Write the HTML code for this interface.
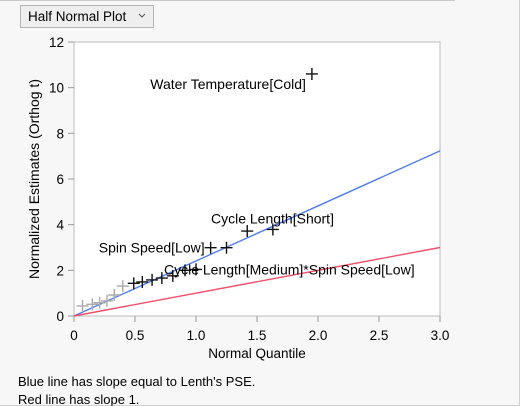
<!DOCTYPE html>
<html><head><meta charset="utf-8"><style>
body{margin:0;background:#f7f7f7;font-family:"Liberation Sans",sans-serif;}
#wrap{position:relative;width:520px;height:406px;overflow:hidden;background:#f7f7f7;}
</style></head><body>
<div id="wrap">
<svg id="svg" width="520" height="406" xmlns="http://www.w3.org/2000/svg" font-family="Liberation Sans, sans-serif">
  <line x1="0" y1="0.5" x2="455" y2="0.5" stroke="#c8c8c8"/>
  <line x1="519.5" y1="0" x2="519.5" y2="406" stroke="#d0d0d0"/>
  <line x1="0" y1="405.5" x2="520" y2="405.5" stroke="#d0d0d0"/>
  <g>
    <rect x="20.5" y="5.5" width="133" height="22" fill="#eeeeee" stroke="#b4b4b4"/>
    <text x="28" y="21" font-size="13.5" fill="#000">Half Normal Plot</text>
    <path d="M139 14 l3 3 l3 -3" fill="none" stroke="#555" stroke-width="1"/>
  </g>
  <rect x="74" y="42" width="366" height="274" fill="#fff" stroke="#bdbdbd"/>
  <g id="axes"></g>
  <g id="marks"></g>
  <text x="257" y="358" font-size="13.5" text-anchor="middle">Normal Quantile</text>
  <text transform="translate(39,179) rotate(-90)" font-size="14" text-anchor="middle">Normalized Estimates (Orthog t)</text>
  <text x="18" y="386" font-size="13">Blue line has slope equal to Lenth's PSE.</text>
  <text x="18" y="404" font-size="13">Red line has slope 1.</text>
</svg>
</div>
<script>
const xTicks=[0,0.5,1.0,1.5,2.0,2.5,3.0];
const xTickLabels=["0","0.5","1.0","1.5","2.0","2.5","3.0"];
const yTicks=[0,2,4,6,8,10,12];
const grayX=[0.07,0.15,0.21,0.27,0.33,0.40];
const grayY=[0.44,0.51,0.58,0.66,0.92,1.31];
const blackX=[0.49,0.56,0.64,0.72,0.81,0.91,1.0,1.12,1.25,1.42,1.63,1.95];
const blackY=[1.43,1.49,1.58,1.66,1.76,2.0,2.04,2.99,2.99,3.72,3.79,10.6];
const labelNames=["Water Temperature[Cold]","Cycle Length[Short]","Spin Speed[Low]","Cycle Length[Medium]*Spin Speed[Low]"];
const labelIdx=[11,10,7,6];
const blueSlope=2.41;
const redSlope=1;
const xMin=0,xMax=3,yMin=0,yMax=12;
const L=74,R=440,T=42,B=316;
function sx(v){return L+(v-xMin)/(xMax-xMin)*(R-L);}
function sy(v){return B-(v-yMin)/(yMax-yMin)*(B-T);}
const NS="http://www.w3.org/2000/svg";
function mk(tag,attrs,parent){const e=document.createElementNS(NS,tag);for(const k in attrs)e.setAttribute(k,attrs[k]);parent.appendChild(e);return e;}
const axes=document.getElementById('axes'),marks=document.getElementById('marks');
xTicks.forEach((v,i)=>{
  const t=mk('line',{x1:sx(v),x2:sx(v),y1:B,y2:B+6,stroke:'#999'},axes);
  
  
  const tx=mk('text',{x:sx(v),y:B+24,'font-size':13.5,'text-anchor':'middle'},axes);
  tx.textContent=xTickLabels[i];
  
  
});
yTicks.forEach(v=>{
  const t=mk('line',{x1:L-6,x2:L,y1:sy(v),y2:sy(v),stroke:'#999'},axes);
  
  
  const tx=mk('text',{x:L-10,y:sy(v)+5,'font-size':13.5,'text-anchor':'end'},axes);
  tx.textContent=String(v);
  
  
});
const bl=mk('line',{x1:sx(0),y1:sy(0),x2:sx(xMax),y2:sy(blueSlope*xMax),stroke:'#4f7df0','stroke-width':1.4},marks);


const rl=mk('line',{x1:sx(0),y1:sy(0),x2:sx(xMax),y2:sy(redSlope*xMax),stroke:'#f0506a','stroke-width':1.4},marks);


function cross(x,y,col,name){
  const p=mk('path',{d:`M${sx(x)-6} ${sy(y)} h12 M${sx(x)} ${sy(y)-6} v12`,stroke:col,'stroke-width':1.4,fill:'none'},marks);
  
  
}
grayX.forEach((x,i)=>cross(x,grayY[i],'#aaaaaa','effect-point-minor'));
blackX.forEach((x,i)=>cross(x,blackY[i],'#111111','effect-point'));
labelNames.forEach((n,i)=>{
  const k=labelIdx[i];
  let x=sx(blackX[k]),y=sy(blackY[k]);
  let tx;
  if(i===0)tx=mk('text',{x:x-6,y:y+15,'font-size':14,'text-anchor':'end'},marks);
  else if(i===1)tx=mk('text',{x:211,y:y-6,'font-size':14},marks);
  else if(i===2)tx=mk('text',{x:x-6,y:y+5,'font-size':14,'text-anchor':'end'},marks);
  else tx=mk('text',{x:164,y:y+5,'font-size':14},marks);
  tx.textContent=n;
  
  
});
</script>
</body></html>
